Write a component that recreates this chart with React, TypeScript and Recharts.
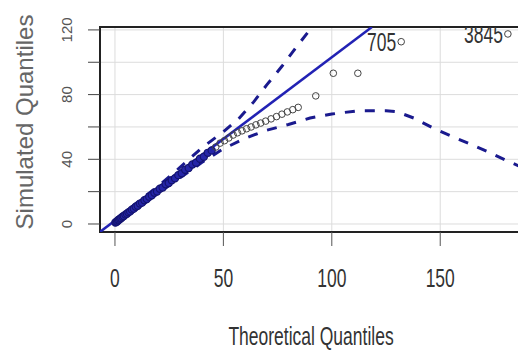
import React from 'react';
import { ComposedChart, Line, Scatter, XAxis, YAxis, CartesianGrid, ReferenceArea } from 'recharts';

// Observed Q-Q points (theoretical x, simulated y)
const qqX = [0.2, 0.6, 1.0, 1.4, 1.9, 2.4, 2.9, 3.5, 4.1, 4.8, 5.5, 6.2, 7.0, 7.8, 8.7, 9.6, 10.5, 11.5, 12.5, 13.6, 14.7, 15.8, 17.0, 18.2, 19.4, 20.7, 22.0, 23.4, 24.8, 26.2, 27.7, 29.2, 30.8, 32.4, 34.0, 35.7, 37.4, 39.2, 41.0, 42.8, 44.6, 46.5, 48.5, 50.5, 52.5, 54.5, 56.5, 58.6, 60.7, 62.8, 65.0, 67.2, 69.5, 72.0, 74.5, 77.0, 79.5, 82.0, 84.5, 92.6, 100.7, 112.0, 132.0, 181.2];
const qqY = [0.9, 1.3, 1.6, 2.3, 2.6, 3.3, 3.7, 4.5, 4.9, 5.8, 6.3, 7.2, 7.8, 8.9, 9.5, 10.7, 11.3, 12.6, 13.2, 14.7, 15.4, 16.9, 17.7, 19.3, 20.1, 21.8, 22.6, 24.5, 25.3, 27.1, 28.3, 30.2, 31.4, 33.5, 34.6, 36.8, 37.9, 40.3, 41.6, 44.0, 45.5, 47.6, 50.0, 51.5, 53.2, 55.0, 56.4, 57.6, 58.9, 60.0, 61.3, 62.4, 63.6, 65.0, 66.4, 67.9, 69.3, 70.7, 72.1, 79.2, 93.2, 93.2, 112.7, 117.5];
// Labelled outliers
const labelX = [132.0, 181.2];
const labelText = ['705', '3845'];

// Reference line
const lineX = [-6.9, 118.5];
const lineY = [-4.9, 121.8];

// Upper envelope
const upperX = [0, 10, 20, 30, 40, 50, 57, 64, 70, 77, 84, 91];
const upperY = [2.5, 13, 23.5, 35, 47, 57, 65, 75.5, 86, 97.5, 110, 122];

// Lower envelope
const lowerX = [0, 10, 20, 30, 40, 50, 60, 70, 80, 90, 100, 112, 125, 130, 138, 146, 155, 163, 172, 180, 192];
const lowerY = [-0.5, 9.5, 19, 28.5, 38, 46.5, 53, 58, 61.5, 65.5, 68, 70, 70, 69.4, 65.4, 59.8, 54.4, 49.9, 44.7, 39.6, 32.5];

const xTicks = [0, 50, 100, 150];
const yTicks = [0, 20, 40, 60, 80, 100, 120];
const yLabelTicks = [0, 40, 80, 120];

const X_DOMAIN: [number, number] = [-6.9, 191.4];
const Y_DOMAIN: [number, number] = [-4.95, 121.8];
const DENSE_LIMIT = 45;

const points = qqX.map((x, i) => {
  const li = labelX.indexOf(x);
  return { x, y: qqY[i], label: li >= 0 ? labelText[li] : '' };
});
const refLine = lineX.map((x, i) => ({ x, y: lineY[i] }));
const upper = upperX.map((x, i) => ({ x, y: upperY[i] }));
const lower = lowerX.map((x, i) => ({ x, y: lowerY[i] }));

const FONT = 'Liberation Sans, Arial, sans-serif';

const XTick = (props: any) => {
  const { x, payload } = props;
  return (
    <text transform={`translate(${x},287) scale(0.7,1)`} textAnchor="middle" fontSize={25} fontFamily={FONT} fill="#333">
      {payload.value}
    </text>
  );
};

const YTick = (props: any) => {
  const { y, payload } = props;
  if (!yLabelTicks.includes(payload.value)) return <g />;
  return (
    <text x={72} y={y} transform={`rotate(-90, 72, ${y})`} textAnchor="middle" fontSize={15} fontFamily={FONT} fill="#555">
      {payload.value}
    </text>
  );
};

const PointShape = (props: any) => {
  const { cx, cy, payload } = props;
  const dense = payload.x < DENSE_LIMIT;
  return (
    <g>
      <circle
        cx={cx}
        cy={cy}
        r={dense ? 3.6 : 3.3}
        fill={dense ? '#2626a8' : 'none'}
        stroke={dense ? '#141470' : '#444'}
        strokeWidth={dense ? 1.2 : 1}
      />
      {payload.label ? (
        <text transform={`translate(${cx - 5},${cy + 9}) scale(0.7,1)`} textAnchor="end" fontSize={25} fontFamily={FONT} fill="#333">
          {payload.label}
        </text>
      ) : null}
    </g>
  );
};

export default function App() {
  return (
    <div style={{ position: 'absolute', left: 0, top: 0, width: 518, height: 350, overflow: 'hidden', background: '#fff' }}>
      <ComposedChart width={530} height={350} margin={{ top: 27, right: 0, bottom: 0, left: 0 }}>
        <CartesianGrid stroke="#dcdcdc" strokeWidth={1} />
        <XAxis
          type="number"
          dataKey="x"
          domain={X_DOMAIN}
          ticks={xTicks}
          interval={0}
          allowDataOverflow
          axisLine={false}
          tickSize={14}
          tickLine={{ stroke: '#555' }}
          tick={<XTick />}
          height={118}
          label={{
            content: () => (
              <text transform="translate(311,345) scale(0.7,1)" textAnchor="middle" fontSize={25} fontFamily={FONT} fill="#333">
                Theoretical Quantiles
              </text>
            ),
          }}
        />
        <YAxis
          type="number"
          dataKey="y"
          domain={Y_DOMAIN}
          ticks={yTicks}
          interval={0}
          allowDataOverflow
          axisLine={false}
          tickSize={12}
          tickLine={{ stroke: '#444' }}
          tick={<YTick />}
          width={100}
          label={{
            content: () => (
              <text x={33} y={122} transform="rotate(-90, 33, 122)" textAnchor="middle" fontSize={24} fontFamily={FONT} fill="#666">
                Simulated Quantiles
              </text>
            ),
          }}
        />
        <Scatter data={points} dataKey="y" shape={<PointShape />} isAnimationActive={false} />
        <Line data={refLine} dataKey="y" type="linear" stroke="#2222b4" strokeWidth={2.5} dot={false} isAnimationActive={false} />
        <Line data={upper} dataKey="y" type="linear" stroke="#1a1a8e" strokeWidth={3} strokeDasharray="10 10" dot={false} isAnimationActive={false} />
        <Line data={lower} dataKey="y" type="linear" stroke="#1a1a8e" strokeWidth={3} strokeDasharray="10 10" dot={false} isAnimationActive={false} />
        <ReferenceArea x1={X_DOMAIN[0]} x2={X_DOMAIN[1]} y1={Y_DOMAIN[0]} y2={Y_DOMAIN[1]} fill="none" stroke="#222" strokeWidth={2} fillOpacity={0} />
      </ComposedChart>
    </div>
  );
}
